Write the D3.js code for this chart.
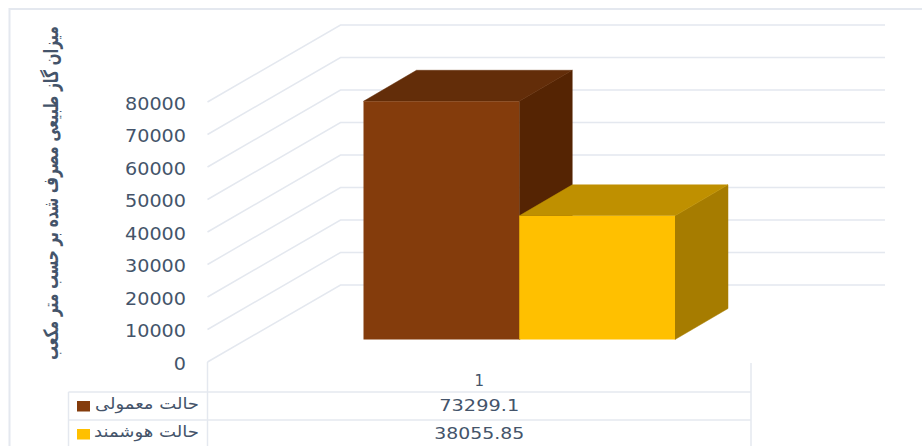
<!DOCTYPE html>
<html><head><meta charset="utf-8">
<script src="https://cdn.jsdelivr.net/npm/d3@7"></script>
<style>html,body{margin:0;padding:0;background:#fff}svg{display:block}text{font-family:"DejaVu Sans",sans-serif}</style>
</head><body><div id="c"></div>
<script>
const categories = ["1"];
const seriesNames = ["حالت معمولی", "حالت هوشمند"];
const seriesValues = [73299.1, 38055.85];
const valueLabels = ["73299.1", "38055.85"];
const tickValues = [0,10000,20000,30000,40000,50000,60000,70000,80000];
const axisTitle = "میزان گاز طبیعی مصرف شده بر حسب متر مکعب";
const faceColors = ["#843c0c", "#ffc000"];
const topColors = ["#632d09", "#bf9000"];
const sideColors = ["#552403", "#a67c00"];
const gridColor = "#e4e8ef", textColor = "#44546a";

const W = 922, H = 446;
const svg = d3.select("#c").append("svg").attr("width", W).attr("height", H);

// frame
svg.append("path").attr("d", `M${W},9H9.5V${H}`).attr("fill","none").attr("stroke",gridColor).attr("stroke-width",2);

const y = d3.scaleLinear().domain([0,80000]).range([362,102]);
const backDx = 133, backDy = -77;
const xL = 207.5, xR = 885 - backDx;

// gridlines: side wall + back wall
const gridG = svg.append("g").attr("fill","none").attr("stroke",gridColor).attr("stroke-width",1.5);
gridG.selectAll("path").data(tickValues).join("path")
  .attr("d", v => `M${xL},${y(v)}L${xL+backDx},${y(v)+backDy}H${xR+backDx}`);

// axis labels
const axis = d3.axisLeft(y).tickValues(tickValues).tickSize(0).tickPadding(0).tickFormat(d3.format("d"));
const axG = svg.append("g").attr("transform","translate(186,0)").call(axis);
axG.select(".domain").remove();
axG.selectAll("text").attr("font-size",17.5).attr("fill",textColor)
  .style("font-family",'"DejaVu Sans",sans-serif').attr("dy","0.42em")
  .attr("textLength",d=>String(d).length*12.2).attr("lengthAdjust","spacingAndGlyphs");

// axis title: squeezed to the reference's span with a transform
const titleEl = svg.append("text")
  .attr("text-anchor","middle").attr("dominant-baseline","middle")
  .attr("font-size",20).attr("font-weight","bold").attr("fill",textColor)
  .attr("direction","rtl").text(axisTitle);
const titleScale = 334 / titleEl.node().getComputedTextLength();
titleEl.attr("transform",`translate(52,193) rotate(-90) scale(${titleScale},1)`);

// bars
const x = d3.scaleBand().domain(seriesNames).range([363.5,675]).padding(0);
const base = y(0) - 22.5;
const depthX = 53, depthY = -31;
const barG = svg.append("g");
seriesNames.forEach((s,i)=>{
  const x0 = x(s), x1 = x0 + x.bandwidth();
  const h = y(0) - y(seriesValues[i]);
  const top = base - h;
  const g = barG.append("g");
  g.append("path").attr("fill",sideColors[i]).attr("stroke",sideColors[i]).attr("stroke-width",0.5)
    .attr("d",`M${x1},${top}L${x1+depthX},${top+depthY}V${base+depthY}L${x1},${base}Z`);
  g.append("path").attr("fill",topColors[i]).attr("stroke",topColors[i]).attr("stroke-width",0.5)
    .attr("d",`M${x0},${top}L${x0+depthX},${top+depthY}H${x1+depthX}L${x1},${top}Z`);
  g.append("rect").attr("x",x0).attr("y",top).attr("width",x.bandwidth()).attr("height",h).attr("fill",faceColors[i]);
});

// data table
const tL = 68.5, tA = 207.5, tR = 751;
const rows = d3.scaleOrdinal().domain(seriesNames).range([392,420]);
const legendWidths = [104, 105];
const tg = svg.append("g").attr("stroke",gridColor).attr("stroke-width",1.5).attr("fill","none");
seriesNames.forEach(s=>tg.append("line").attr("x1",tL).attr("x2",tR).attr("y1",rows(s)).attr("y2",rows(s)));
tg.append("line").attr("x1",tL).attr("x2",tL).attr("y1",392).attr("y2",H);
tg.append("line").attr("x1",tA).attr("x2",tA).attr("y1",362).attr("y2",H);
tg.append("line").attr("x1",tR).attr("x2",tR).attr("y1",363).attr("y2",H);

const mid = (tA+tR)/2;
svg.append("text").attr("x",mid).attr("y",381).attr("text-anchor","middle").attr("dominant-baseline","middle")
  .attr("font-size",15).attr("fill",textColor).text(categories[0]);
seriesNames.forEach((s,i)=>{
  const ry = rows(s);
  svg.append("text").attr("x",mid).attr("y",ry+14).attr("text-anchor","middle").attr("dominant-baseline","middle")
    .attr("font-size",15.5).attr("textLength",valueLabels[i].length===7?80:90).attr("lengthAdjust","spacingAndGlyphs")
    .attr("fill",textColor).text(valueLabels[i]);
  svg.append("rect").attr("x",77).attr("y",ry+9).attr("width",13).attr("height",10.5).attr("fill",faceColors[i]);
  svg.append("text").attr("x",199).attr("y",ry+12).attr("text-anchor","start").attr("dominant-baseline","middle")
    .attr("direction","rtl").attr("font-size",16).attr("textLength",legendWidths[i]).attr("lengthAdjust","spacingAndGlyphs")
    .attr("fill",textColor).text(s);
});
</script></body></html>
